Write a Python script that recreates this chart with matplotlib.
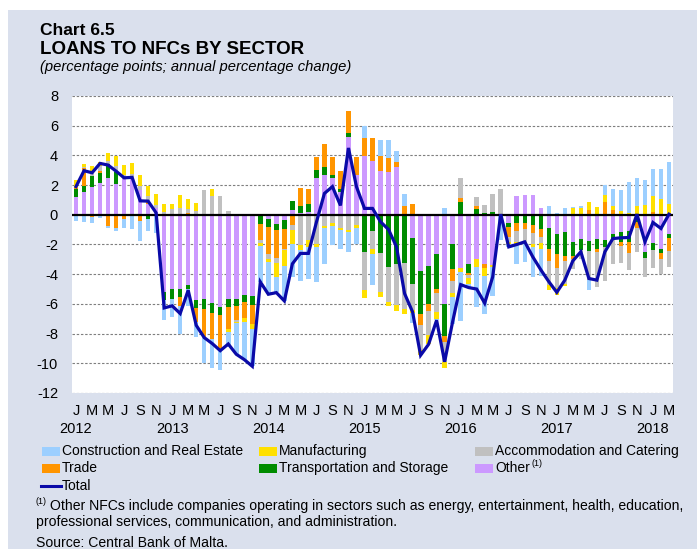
#!/usr/bin/env python3
# -*- coding: utf-8 -*-
"""
Loans to NFCs by sector: stacked monthly contributions with the total line.
Writes out.png (697x549 px).
"""

import numpy as np
import matplotlib

matplotlib.use("Agg")
import matplotlib.pyplot as plt
from matplotlib.patches import Rectangle
from matplotlib.lines import Line2D
from matplotlib.transforms import blended_transform_factory

plt.rcParams["font.family"] = ["Liberation Sans", "DejaVu Sans"]
plt.rcParams["axes.unicode_minus"] = False

# ----------------------------
# Data (percentage points), Jan 2012 .. Mar 2018
# ----------------------------
month_letters = ["J", "M", "M", "J", "S", "N"]
years = ["2012", "2013", "2014", "2015", "2016", "2017", "2018"]

other = [1.17, 1.55, 1.9, 2.16, 2.5, 2.1, 2.38, 2.45, 1.66, 0.76, 0.43,
         -5.2, -5.03, -4.97, -4.74, -5.75, -5.64, -5.93, -6.2, -5.64, -5.7, -5.42, -5.48,
         0, -0.3, -0.63, -0.36, 0.3, 0.1, 0.2, 2.45, 2.67, 2.45, 1.55, 5.26, 2.67,
         3.98, 3.64, 2.97, 2.85, 3.19, 0, -1.55, -3.78, -3.44, -2.65, -5.98, -1.98,
         -3.6, -3.33, -3.0, -3.28, -3.4, 0, -0.54, 1.26, 1.33, 1.33, 0.47, -0.92, -1.26, -1.15,
         -1.82, -1.66, -1.78, -1.6, -1.7, -1.26, -1.15, -1.08, 0, -2.49, -1.93, -2.27, -1.3]

transport = [0.54, 0.38, 0.72, 0.67, 0.92, 0.79, 0, 0, 0, -0.31, 0,
             -0.56, -0.65, -0.56, -0.29, -0.5, -0.72, -0.67, -0.56, -0.56, -0.45, -0.47, -0.6,
             -0.6, -0.54, -0.4, -0.6, 0.6, 0.5, 0.52, 0.56, 0.52, 0.22, 0.22, 0.27, 0,
             -2.5, -1.08, -2.54, -3.5, -3.3, -3.24, -3.08, -2.92, -2.6, -2.36, -2.2, -1.64,
             0.85, -0.58, 0.36, 0.13, 0.18, 0, -0.27, -0.54, -0.58, -0.7, -0.94, -1.35, -1.35, -1.64,
             -0.97, -0.72, -0.67, -0.67, -0.45, -0.34, -0.67, -0.74, -0.47, -0.4, -0.45, -0.27, -0.29]

trade = [0.11, 1.2, -0.18, 0.1, -0.76, -0.88, -0.31, 0, -0.4, 0.1, 0,
         0, 0, -0.63, 0.13, -1.0, -1.87, -1.73, -2.25, -1.46, -0.94, -1.03, -1.24,
         -1.12, -1.8, -1.9, -1.35, -0.7, 1.2, 1.0, 0.9, 1.57, 1.24, 1.17, 1.48, 1.24,
         1.2, 1.55, 1.0, 1.0, 0.36, 0.58, 0.7, -0.74, -0.45, -0.25, -0.38, -0.83,
         0.25, -0.16, 0.22, -0.3, 0, 0, -0.67, -0.56, -0.4, -0.52, -0.54, -0.83, -1.0, -0.34,
         -0.16, 0, 0.31, -0.22, 0.88, 0.31, -0.27, -0.74, -0.45, 0, 0.2, -0.45, -0.85]

accom = [0, 0.1, 0.2, 0.35, 0.2, 0.38, 0.29, 0.29, 0.29, 0.4, 0.22,
         0.2, 0.36, 0.47, 0.25, 0.27, 1.7, 1.26, 1.26, 0.25, -0.1, 0, 0,
         -0.18, -0.34, -0.3, -0.07, -0.3, -2.05, -1.7, -1.98, -0.76, -0.54, -0.92, -1.0, -0.7,
         -2.58, -1.19, -2.65, -2.36, -2.76, -3.08, -1.8, -1.68, -1.62, -1.28, -1.35, -0.81,
         1.35, -0.18, 0.65, 0.56, 1.19, 1.73, -0.34, -0.72, -0.83, -0.72, -0.45, -1.64, -1.35, -1.5,
         -0.67, -0.63, -1.96, -2.36, -2.29, -1.73, -1.15, -1.17, -1.58, -1.28, -1.19, -1.01, -1.06]

manuf = [0.5, 0.18, 0.45, 0.3, 0.56, 0.7, 0.67, 0.72, 0.72, 0.7, 0.74,
         0.56, 0.4, 0.83, 0.7, 0.54, 0, 0.45, 0, -0.22, -0.1, -0.29, -0.4,
         -0.22, -0.18, -0.94, -1.08, -1.0, -0.34, -0.45, -0.22, -0.16, -0.22, -0.12, -0.13, -0.22,
         -0.5, -0.34, -0.34, -0.27, -0.45, -0.38, -0.2, -0.34, -0.56, -0.45, -0.38, -0.27,
         -0.22, -0.38, -0.5, -0.54, -0.1, 0, -0.16, -0.16, -0.11, -0.22, -0.4, -0.34, -0.45, -0.18,
         0.47, 0.47, 0.52, 0.5, 0.45, 0.27, 0.27, 0.13, 0.58, 0.65, 1.08, 1.06, 0.72]

constr = [-0.4, -0.47, -0.36, -0.2, -0.1, -0.22, -0.56, -0.94, -1.35, -0.76, -1.2,
          -1.3, -1.19, -1.84, -1.1, -1.0, -1.75, -2.02, -1.42, -1.05, -2.1, -2.54, -2.47,
          -2.4, -2.2, -1.06, -2.34, -2.2, -2.1, -2.2, -2.3, -2.4, -1.28, -1.24, -1.37, -1.06,
          0.8, -2.13, 1.1, 1.2, 0.76, 0.79, -0.67, 0, 0, -0.1, 0.43, -1.8,
          -3.3, -0.2, -2.7, -2.58, -2.0, -1.7, -0.18, -1.35, -1.24, -2.0, -1.8, 0.58, 0.15, 0.47,
          0.05, 0.1, -0.67, 0, 0.67, 1.15, 1.39, 2.09, 1.87, 1.69, 1.8, 2.02, 2.85]

total = [1.9, 2.97, 2.83, 3.46, 3.35, 2.94, 2.49, 2.52, 0.94, 0.92, 0.13,
         -6.27, -6.13, -6.65, -5.08, -7.44, -8.27, -8.67, -9.15, -8.7, -9.39, -9.75, -10.2,
         -4.52, -5.35, -5.24, -5.8, -3.3, -2.6, -2.6, -0.5, 1.44, 1.9, 0.63, 4.5, 1.89,
         0.43, 0.43, -0.47, -0.99, -2.16, -5.3, -6.54, -9.46, -8.72, -7.1, -9.9, -7.2,
         -4.7, -4.9, -5.0, -5.95, -4.18, 0.04, -2.16, -2.0, -1.82, -2.83, -3.7, -4.5, -5.22, -4.4,
         -3.1, -2.49, -4.29, -4.4, -2.49, -1.6, -1.55, -1.53, 0.04, -1.82, -0.52, -0.92, 0.04]

# stacking order (from the zero line outwards)
SERIES = [
    ("Other", other, "#CC99FF"),
    ("Transportation and Storage", transport, "#008C00"),
    ("Trade", trade, "#FF9500"),
    ("Accommodation and Catering", accom, "#C0C0C0"),
    ("Manufacturing", manuf, "#FFE000"),
    ("Construction and Real Estate", constr, "#9CCFFF"),
]
TOTAL_COLOR = "#0A0AA8"
BG = "#DAE0ED"

W, H = 697, 549


def fx(px):
    return px / W


def fy(py):
    return 1 - py / H


def main():
    fig = plt.figure(figsize=(W / 100, H / 100), dpi=100, facecolor="white")
    fig.add_artist(Rectangle((fx(8), 0), 1 - fx(8), fy(10), transform=fig.transFigure,
                             facecolor=BG, edgecolor="none", zorder=-10))

    ax = fig.add_axes([fx(72), fy(393), fx(673) - fx(72), fy(96) - fy(393)])
    ax.set_facecolor("white")

    n = len(total)
    x = np.arange(n)
    pos = np.zeros(n)
    neg = np.zeros(n)
    for _, vals, color in SERIES:
        v = np.asarray(vals, dtype=float)
        bottom = np.where(v >= 0, pos, neg)
        ax.bar(x, v, bottom=bottom, width=0.56, color=color, linewidth=0, zorder=2)
        pos = pos + np.clip(v, 0, None)
        neg = neg + np.clip(v, None, 0)

    ax.plot(x, total, color=TOTAL_COLOR, linewidth=2.3, zorder=4, solid_joinstyle="miter")

    # axes styling
    ax.set_xlim(-0.5, n - 0.5)
    ax.set_ylim(-12, 8)
    ax.set_yticks(range(-12, 9, 2))
    for y in range(-12, 9, 2):
        if y != 0:
            ax.axhline(y, color="#7F7F7F", linewidth=0.8, linestyle=(0, (2.2, 1.6)), zorder=1)
    ax.axhline(0, color="black", linewidth=1.6, zorder=3)
    for s in ax.spines.values():
        s.set_visible(False)

    ax.set_xticks(range(0, n, 2))
    ax.set_xticklabels([month_letters[(i // 2) % 6] for i in range(0, n, 2)])
    ax.tick_params(axis="x", length=0, pad=8, labelsize=10.5)
    ax.tick_params(axis="y", length=0, pad=10, labelsize=10.5)

    tr = blended_transform_factory(ax.transData, fig.transFigure)
    for k, yr in enumerate(years):
        ax.text(12 * k, fy(429), yr, transform=tr, ha="center", va="center", fontsize=10.5)

    # titles
    fig.text(fx(40), fy(35), "Chart 6.5", fontsize=12.5, fontweight="bold", va="baseline")
    fig.text(fx(40), fy(54), "LOANS TO NFCs BY SECTOR", fontsize=13.5, fontweight="bold",
             va="baseline")
    fig.text(fx(40), fy(71), "(percentage points; annual percentage change)", fontsize=10.6,
             style="italic", va="baseline")

    # legend
    legend_items = [
        ("Construction and Real Estate", "#9CCFFF", 42, 451),
        ("Manufacturing", "#FFE000", 259, 451),
        ("Accommodation and Catering", "#C0C0C0", 475, 451),
        ("Trade", "#FF9500", 42, 468),
        ("Transportation and Storage", "#008C00", 259, 468),
        ("Other", "#CC99FF", 475, 468),
    ]
    for label, color, px, py in legend_items:
        fig.add_artist(Rectangle((fx(px), fy(py + 4.5)), 18 / W, 9 / H,
                                 transform=fig.transFigure, facecolor=color, edgecolor="none"))
        fig.text(fx(px + 20), fy(py), label, fontsize=10, va="center")
        if label == "Other":
            fig.text(fx(px + 57), fy(py - 5), "(1)", fontsize=6.5, va="center")
    fig.add_artist(Line2D([fx(41), fx(61)], [fy(486), fy(486)], transform=fig.transFigure,
                          color=TOTAL_COLOR, linewidth=2.2))
    fig.text(fx(62), fy(486), "Total", fontsize=10, va="center")

    # footnote and source
    fig.text(fx(36), fy(502), "(1)", fontsize=6.5, va="center")
    fig.text(fx(50), fy(506), "Other NFCs include companies operating in sectors such as energy, "
             "entertainment, health, education,", fontsize=10.1, va="center")
    fig.text(fx(36), fy(522), "professional services, communication, and administration.",
             fontsize=10.1, va="center")
    fig.text(fx(36), fy(543), "Source: Central Bank of Malta.", fontsize=10.1, va="center")

    fig.savefig("out.png", dpi=100, facecolor=fig.get_facecolor())
    plt.close(fig)


if __name__ == "__main__":
    main()
